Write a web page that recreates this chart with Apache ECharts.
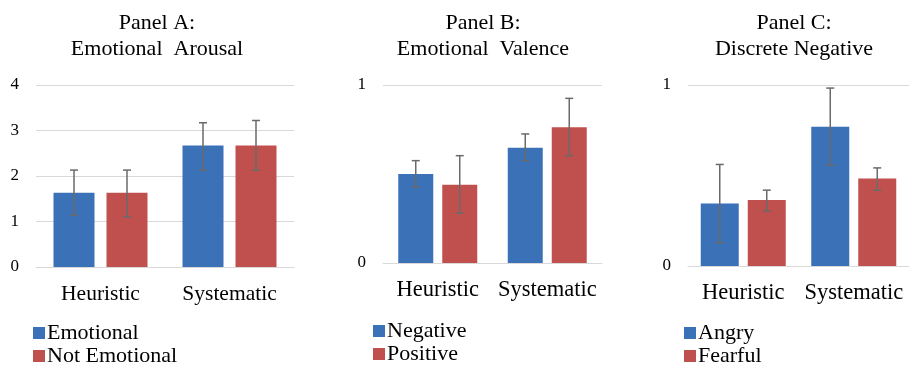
<!DOCTYPE html>
<html>
<head>
<meta charset="utf-8">
<script src="https://cdn.jsdelivr.net/npm/echarts@6/dist/echarts.min.js"></script>
<style>
html,body{margin:0;padding:0;background:#fff;}
#c{width:909px;height:368px;}
</style>
</head>
<body>
<div id="c"></div>
<script>
// ---- data ----
const categories = ['Heuristic', 'Systematic'];

const panelTitles = ['Panel A:\nEmotional  Arousal', 'Panel B:\nEmotional  Valence', 'Panel C:\nDiscrete Negative'];

const seriesNamesA = ['Emotional', 'Not Emotional'];
const emotional = [1.63, 2.67];
const emotionalLow = [1.14, 2.13];
const emotionalHigh = [2.13, 3.17];
const notEmotional = [1.63, 2.67];
const notEmotionalLow = [1.10, 2.13];
const notEmotionalHigh = [2.13, 3.22];

const seriesNamesB = ['Negative', 'Positive'];
const negative = [0.50, 0.648];
const negativeLow = [0.426, 0.575];
const negativeHigh = [0.575, 0.725];
const positive = [0.439, 0.763];
const positiveLow = [0.28, 0.603];
const positiveHigh = [0.603, 0.925];

const seriesNamesC = ['Angry', 'Fearful'];
const angry = [0.345, 0.769];
const angryLow = [0.129, 0.557];
const angryHigh = [0.561, 0.983];
const fearful = [0.364, 0.484];
const fearfulLow = [0.304, 0.419];
const fearfulHigh = [0.419, 0.542];

const yTicksA = [0, 1, 2, 3, 4];
const yTicksBC = [0, 1];

// ---- styling ----
const FONT = "'Liberation Serif', 'Times New Roman', serif";
const BLUE = '#3A71B7';
const RED = '#C0504D';
const GRID_COLOR = '#D9D9D9';
const ERR_COLOR = '#6A6A6A';

const panels = [
  { grid: {left: 36, width: 258, top: 85, bottom: 101}, yMax: 4, ticks: yTicksA, barWidth: 41, gap: 12,
    names: seriesNamesA, vals: [emotional, notEmotional], lows: [emotionalLow, notEmotionalLow], highs: [emotionalHigh, notEmotionalHigh],
    titleX: 157, legendX: 33, catFont: 21.5, legendTop: 322 },
  { grid: {left: 383, width: 219, top: 85, bottom: 105}, yMax: 1, ticks: yTicksBC, barWidth: 35, gap: 9,
    names: seriesNamesB, vals: [negative, positive], lows: [negativeLow, positiveLow], highs: [negativeHigh, positiveHigh],
    titleX: 483, legendX: 373, catFont: 22.5, legendTop: 320 },
  { grid: {left: 688, width: 228, top: 85, bottom: 102}, yMax: 1, ticks: yTicksBC, barWidth: 38, gap: 9,
    names: seriesNamesC, vals: [angry, fearful], lows: [angryLow, fearfulLow], highs: [angryHigh, fearfulHigh],
    titleX: 794, legendX: 684, catFont: 22.5, legendTop: 322 }
];

const colors = [BLUE, RED];
const grids = [], xAxes = [], yAxes = [], series = [], legends = [], graphics = [];

panels.forEach((p, pi) => {
  grids.push(Object.assign({containLabel: false}, p.grid));
  xAxes.push({
    type: 'category', gridIndex: pi, data: categories,
    axisLine: {show: true, lineStyle: {color: GRID_COLOR, width: 1}},
    axisTick: {show: false},
    axisLabel: {color: '#000', fontFamily: FONT, fontSize: p.catFont, margin: 16, interval: 0, hideOverlap: false}
  });
  yAxes.push({
    type: 'value', gridIndex: pi, min: 0, max: p.yMax, interval: 1,
    axisLine: {show: false}, axisTick: {show: false},
    splitLine: {show: true, lineStyle: {color: GRID_COLOR, width: 1}},
    axisLabel: {color: '#000', fontFamily: FONT, fontSize: 17, margin: 17}
  });
  [0, 1].forEach(si => {
    series.push({
      type: 'bar', name: p.names[si], xAxisIndex: pi, yAxisIndex: pi,
      data: p.vals[si], barWidth: p.barWidth, barGap: (p.gap / p.barWidth * 100) + '%',
      itemStyle: {color: colors[si]}, z: 2
    });
  });
  [0, 1].forEach(si => {
    const off = (si === 0 ? -1 : 1) * (p.barWidth + p.gap) / 2;
    series.push({
      type: 'custom', name: p.names[si] + ' error', xAxisIndex: pi, yAxisIndex: pi,
      data: categories.map((c, ci) => [ci, p.lows[si][ci], p.highs[si][ci]]),
      encode: {x: 0, y: [1, 2]},
      z: 5, silent: true,
      renderItem: function (params, api) {
        const lo = api.coord([api.value(0), api.value(1)]);
        const hi = api.coord([api.value(0), api.value(2)]);
        const x = lo[0] + off;
        const cap = 4;
        const st = {stroke: ERR_COLOR, lineWidth: 1.5};
        return {
          type: 'group',
          children: [
            {type: 'line', shape: {x1: x, y1: lo[1], x2: x, y2: hi[1]}, style: st},
            {type: 'line', shape: {x1: x - cap, y1: lo[1], x2: x + cap, y2: lo[1]}, style: st},
            {type: 'line', shape: {x1: x - cap, y1: hi[1], x2: x + cap, y2: hi[1]}, style: st}
          ]
        };
      }
    });
    legends.push({
      data: [p.names[si]], orient: 'vertical', left: p.legendX, top: p.legendTop + si * 23,
      icon: 'rect', itemWidth: 12, itemHeight: 12, itemGap: 0, padding: 0,
      selectedMode: false,
      textStyle: {color: '#000', fontFamily: FONT, fontSize: 22, padding: [0, 0, 0, -3]}
    });
  });
  graphics.push({
    type: 'text', x: p.titleX, y: 36,
    style: {text: panelTitles[pi], fill: '#000', font: '22px ' + FONT, textAlign: 'center', textVerticalAlign: 'middle', lineHeight: 26}
  });
});

const chart = echarts.init(document.getElementById('c'));
chart.setOption({
  animation: false,
  backgroundColor: '#fff',
  grid: grids, xAxis: xAxes, yAxis: yAxes, series: series, legend: legends,
  graphic: graphics
});
</script>
</body>
</html>
